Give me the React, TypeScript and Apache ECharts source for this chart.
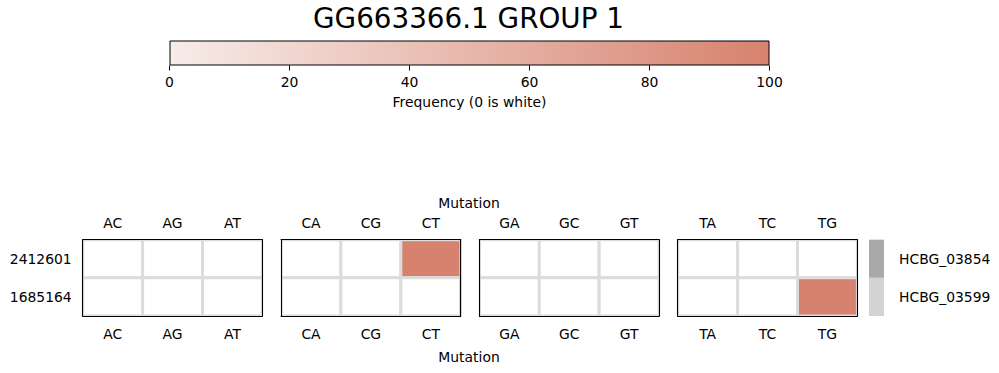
import React, { useEffect, useRef } from "react";
import * as echarts from "echarts";

const titleText = "GG663366.1 GROUP 1";
const rows = ["2412601", "1685164"];
const groups = [
  ["AC", "AG", "AT"],
  ["CA", "CG", "CT"],
  ["GA", "GC", "GT"],
  ["TA", "TC", "TG"],
];
// frequency per group: [row][col]
const freqA = [
  [0, 0, 0],
  [0, 0, 0],
];
const freqC = [
  [0, 0, 100],
  [0, 0, 0],
];
const freqG = [
  [0, 0, 0],
  [0, 0, 0],
];
const freqT = [
  [0, 0, 0],
  [0, 0, 100],
];
const freqs = [freqA, freqC, freqG, freqT];
const genes = ["HCBG_03854", "HCBG_03599"];
const geneColors = ["#a9a9a9", "#d3d3d3"];
const cbTicks = [0, 20, 40, 60, 80, 100];
const cbRange = [0, 100];

const LOW = [247, 236, 233];
const HIGH = [215, 130, 110];
function colorFor(v: number) {
  if (!v) return "#ffffff";
  const t = Math.max(0, Math.min(1, v / 100));
  const c = LOW.map((l, i) => Math.round(l + (HIGH[i] - l) * t));
  return `rgb(${c[0]},${c[1]},${c[2]})`;
}

const FONT = "DejaVu Sans";
const FS = 13.9;

export default function App() {
  const ref = useRef<HTMLDivElement>(null);
  useEffect(() => {
    if (!ref.current) return;
    const chart = echarts.init(ref.current, undefined, { renderer: "svg" });

    const grids: any[] = [];
    const xAxes: any[] = [];
    const yAxes: any[] = [];
    const series: any[] = [];

    // colorbar grid 0
    grids.push({ left: 169.5, top: 40.5, width: 600, height: 25 });
    xAxes.push({
      type: "value",
      gridIndex: 0,
      min: cbRange[0],
      max: cbRange[1],
      interval: 20,
      position: "bottom",
      axisLine: { show: false },
      axisTick: { show: true, length: 5, lineStyle: { color: "#000", width: 1 } },
      splitLine: { show: false },
      axisLabel: {
        color: "#000",
        fontSize: FS,
        fontFamily: FONT,
        margin: 9,
        formatter: (v: number) => (cbTicks.includes(v) ? String(v) : ""),
      },
      name: "Frequency (0 is white)",
      nameLocation: "middle",
      nameGap: 29,
      nameTextStyle: { color: "#000", fontSize: FS, fontFamily: FONT },
    });
    yAxes.push({
      type: "category",
      gridIndex: 0,
      data: ["cb"],
      show: false,
    });
    series.push({
      type: "bar",
      xAxisIndex: 0,
      yAxisIndex: 0,
      barWidth: "100%",
      data: [cbRange[1]],
      itemStyle: {
        color: new echarts.graphic.LinearGradient(0, 0, 1, 0, [
          { offset: 0, color: colorFor(0.0001) },
          { offset: 1, color: colorFor(100) },
        ]),
        borderColor: "#000",
        borderWidth: 1,
      },
    });

    // panels
    const panelLeft0 = 82.7;
    const panelStep = 198.33;
    const panelW = 179.7;
    const panelTop = 239.7;
    const panelH = 76.3;
    const line = { show: true, lineStyle: { color: "#000", width: 1.1 } };
    groups.forEach((cols, gi) => {
      const gIdx = grids.length;
      grids.push({ left: panelLeft0 + gi * panelStep, top: panelTop, width: panelW, height: panelH });
      const xTop = xAxes.length;
      xAxes.push({
        type: "category",
        gridIndex: gIdx,
        data: cols,
        position: "top",
        z: 10,
        axisLine: line,
        axisTick: { show: false },
        axisLabel: { color: "#000", fontSize: FS, fontFamily: FONT, margin: 10 },
      });
      xAxes.push({
        type: "category",
        gridIndex: gIdx,
        data: cols,
        position: "bottom",
        z: 10,
        axisLine: line,
        axisTick: { show: false },
        axisLabel: { color: "#000", fontSize: FS, fontFamily: FONT, margin: 11 },
      });
      const yLeft = yAxes.length;
      yAxes.push({
        type: "category",
        gridIndex: gIdx,
        data: rows,
        inverse: true,
        position: "left",
        z: 10,
        axisLine: line,
        axisTick: { show: false },
        axisLabel: { show: gi === 0, color: "#000", fontSize: FS, fontFamily: FONT, margin: 11 },
      });
      yAxes.push({
        type: "category",
        gridIndex: gIdx,
        data: rows,
        inverse: true,
        position: "right",
        z: 10,
        axisLine: line,
        axisTick: { show: false },
        axisLabel: { show: false },
      });
      const data: number[][] = [];
      freqs[gi].forEach((r, ri) => r.forEach((v, ci) => data.push([ci, ri, v])));
      series.push({
        type: "custom",
        xAxisIndex: xTop,
        yAxisIndex: yLeft,
        clip: true,
        data,
        renderItem: (params: any, api: any) => {
          const c = api.coord([api.value(0), api.value(1)]);
          const s = api.size([1, 1]);
          return {
            type: "rect",
            shape: { x: c[0] - s[0] / 2, y: c[1] - s[1] / 2, width: s[0], height: s[1] },
            style: { fill: colorFor(api.value(2)), stroke: "#dcdcdc", lineWidth: 3 },
          };
        },
      });
    });

    // annotation bar
    const aIdx = grids.length;
    grids.push({ left: 869, top: panelTop, width: 15, height: panelH });
    const ax = xAxes.length;
    xAxes.push({ type: "category", gridIndex: aIdx, data: ["gene"], show: false });
    const ay = yAxes.length;
    yAxes.push({
      type: "category",
      gridIndex: aIdx,
      data: genes,
      inverse: true,
      position: "right",
      axisLine: { show: false },
      axisTick: { show: false },
      axisLabel: { color: "#000", fontSize: FS, fontFamily: FONT, margin: 15 },
    });
    series.push({
      type: "custom",
      xAxisIndex: ax,
      yAxisIndex: ay,
      data: genes.map((g, i) => [0, i]),
      renderItem: (params: any, api: any) => {
        const c = api.coord([api.value(0), api.value(1)]);
        const s = api.size([1, 1]);
        return {
          type: "rect",
          shape: { x: c[0] - s[0] / 2, y: c[1] - s[1] / 2, width: s[0], height: s[1] },
          style: { fill: geneColors[api.value(1)] },
        };
      },
    });

    chart.setOption({
      animation: false,
      backgroundColor: "#fff",
      textStyle: { fontFamily: FONT },
      title: [
        {
          text: titleText,
          left: 468.5,
          top: 4,
          padding: 0,
          textAlign: "center",
          textStyle: { fontSize: 27.8, fontWeight: "normal", color: "#000", fontFamily: FONT },
        },
        {
          text: "Mutation",
          left: 469,
          top: 196,
          padding: 0,
          textAlign: "center",
          textStyle: { fontSize: FS, fontWeight: "normal", color: "#000", fontFamily: FONT },
        },
        {
          text: "Mutation",
          left: 469,
          top: 350,
          padding: 0,
          textAlign: "center",
          textStyle: { fontSize: FS, fontWeight: "normal", color: "#000", fontFamily: FONT },
        },
      ],
      grid: grids,
      xAxis: xAxes,
      yAxis: yAxes,
      series,
    });
    return () => chart.dispose();
  }, []);
  return (
    <div
      ref={ref}
      style={{ position: "fixed", left: 0, top: 0, width: 999, height: 373, background: "#fff" }}
    />
  );
}
